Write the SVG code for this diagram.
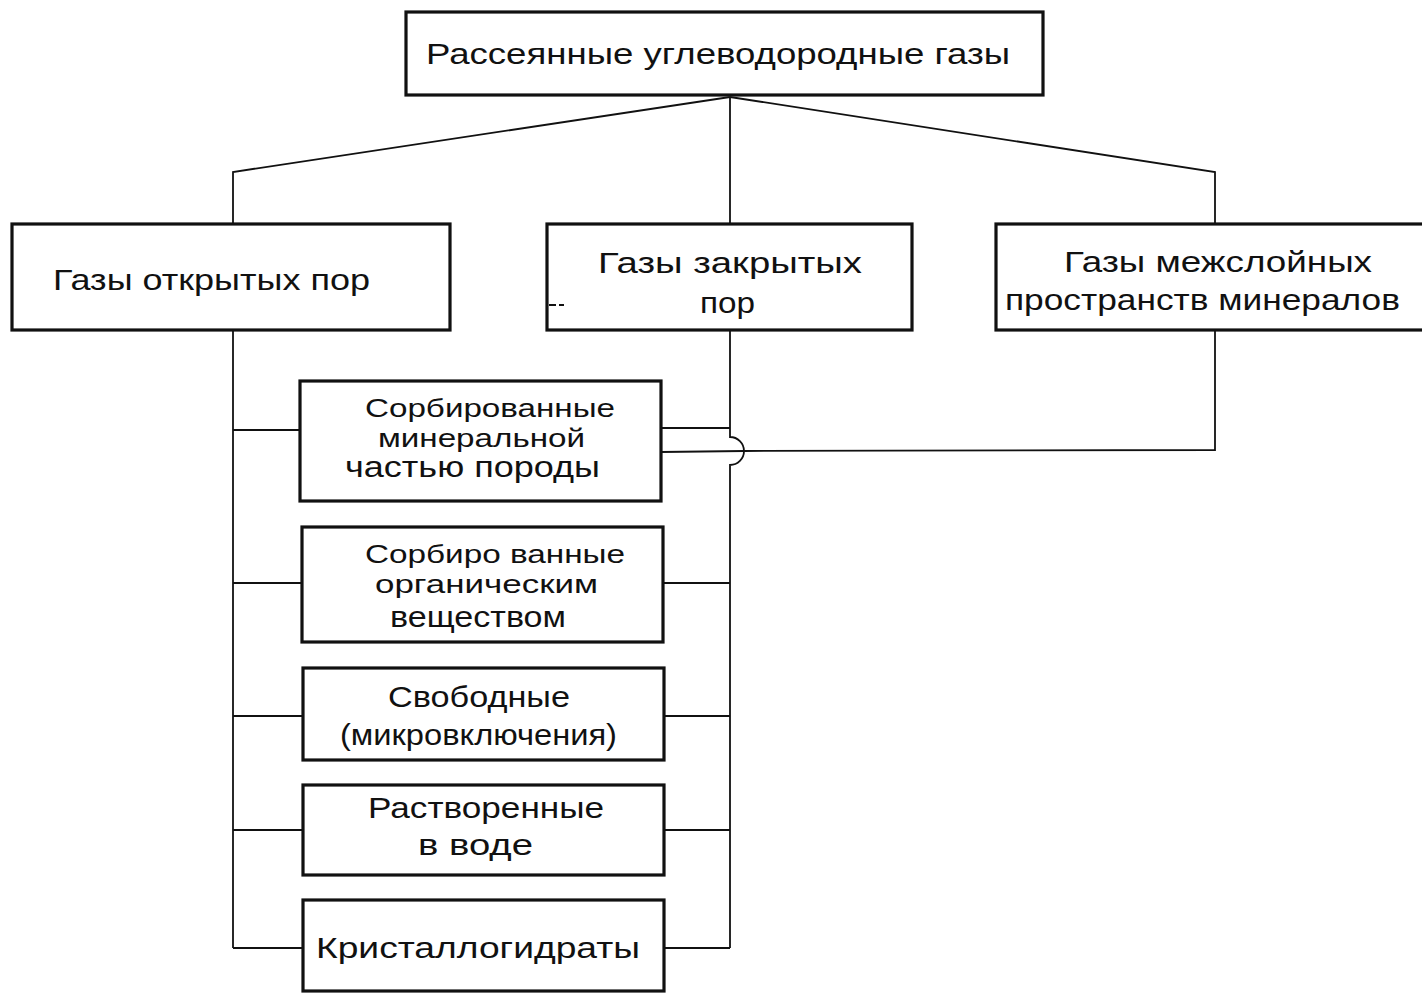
<svg xmlns="http://www.w3.org/2000/svg" width="1422" height="993" viewBox="0 0 1422 993">
<style>
.box{fill:#fff;stroke:#111;stroke-width:3.2}
.ln{fill:none;stroke:#111;stroke-width:1.8}
text{font-family:"Liberation Sans","DejaVu Sans",sans-serif;font-size:29px;fill:#111}
.sm{font-size:26px}
</style>
<rect width="1422" height="993" fill="#fff"/>
<g id="connectors">
<path class="ln" d="M730 97 L233 172 L233 224"/>
<path class="ln" d="M730 97 L730 224"/>
<path class="ln" d="M730 97 L1215 172 L1215 224"/>
<path class="ln" d="M233 330 L233 948"/>
<path class="ln" d="M730 330 L730 437 A14 14 0 0 1 730 465 L730 948"/>
<path class="ln" d="M1215 330 L1215 450 L744 451"/>
<path class="ln" d="M744 451 L661 452"/>
<path class="ln" d="M233 430 L300 430"/>
<path class="ln" d="M661 428 L730 428"/>
<path class="ln" d="M233 583 L302 583 M663 583 L730 583"/>
<path class="ln" d="M233 716 L303 716 M664 716 L730 716"/>
<path class="ln" d="M233 830 L303 830 M664 830 L730 830"/>
<path class="ln" d="M233 948 L303 948 M664 948 L730 948"/>
</g>
<g id="n-top"><rect class="box" x="406" y="12" width="637" height="83"/><text x="426" y="64" textLength="584" lengthAdjust="spacingAndGlyphs">Рассеянные  углеводородные газы</text></g>
<g id="n-open"><rect class="box" x="12" y="224" width="438" height="106"/><text x="53" y="290" textLength="317" lengthAdjust="spacingAndGlyphs">Газы открытых пор</text></g>
<g id="n-closed"><rect class="box" x="547" y="224" width="365" height="106"/><text x="598" y="273" textLength="264" lengthAdjust="spacingAndGlyphs">Газы  закрытых</text><text x="700" y="313" textLength="55" lengthAdjust="spacingAndGlyphs">пор</text><path class="ln" d="M549 305 L556 305 M559 305 L564 305"/></g>
<g id="n-interlayer"><rect class="box" x="996" y="224" width="430" height="106"/><text x="1064" y="272" textLength="308" lengthAdjust="spacingAndGlyphs">Газы межслойных</text><text x="1005" y="310" textLength="395" lengthAdjust="spacingAndGlyphs">пространств минералов</text></g>
<g id="n-mineral"><rect class="box" x="300" y="381" width="361" height="120"/><text class="sm" x="365" y="417" textLength="250" lengthAdjust="spacingAndGlyphs">Сорбированные</text><text class="sm" x="378" y="447" textLength="207" lengthAdjust="spacingAndGlyphs">минеральной</text><text x="345" y="477" textLength="255" lengthAdjust="spacingAndGlyphs">частью  породы</text></g>
<g id="n-organic"><rect class="box" x="302" y="527" width="361" height="115"/><text class="sm" x="365" y="563" textLength="260" lengthAdjust="spacingAndGlyphs">Сорбиро ванные</text><text class="sm" x="375" y="593" textLength="223" lengthAdjust="spacingAndGlyphs">органическим</text><text x="390" y="627" textLength="176" lengthAdjust="spacingAndGlyphs">веществом</text></g>
<g id="n-free"><rect class="box" x="303" y="668" width="361" height="92"/><text x="388" y="707" textLength="182" lengthAdjust="spacingAndGlyphs">Свободные</text><text x="340" y="745" textLength="277" lengthAdjust="spacingAndGlyphs">(микровключения)</text></g>
<g id="n-dissolved"><rect class="box" x="303" y="785" width="361" height="90"/><text x="368" y="818" textLength="236" lengthAdjust="spacingAndGlyphs">Растворенные</text><text x="418" y="855" textLength="115" lengthAdjust="spacingAndGlyphs">в  воде</text></g>
<g id="n-crystal"><rect class="box" x="303" y="900" width="361" height="91"/><text x="316" y="958" textLength="324" lengthAdjust="spacingAndGlyphs">Кристаллогидраты</text></g>
</svg>
